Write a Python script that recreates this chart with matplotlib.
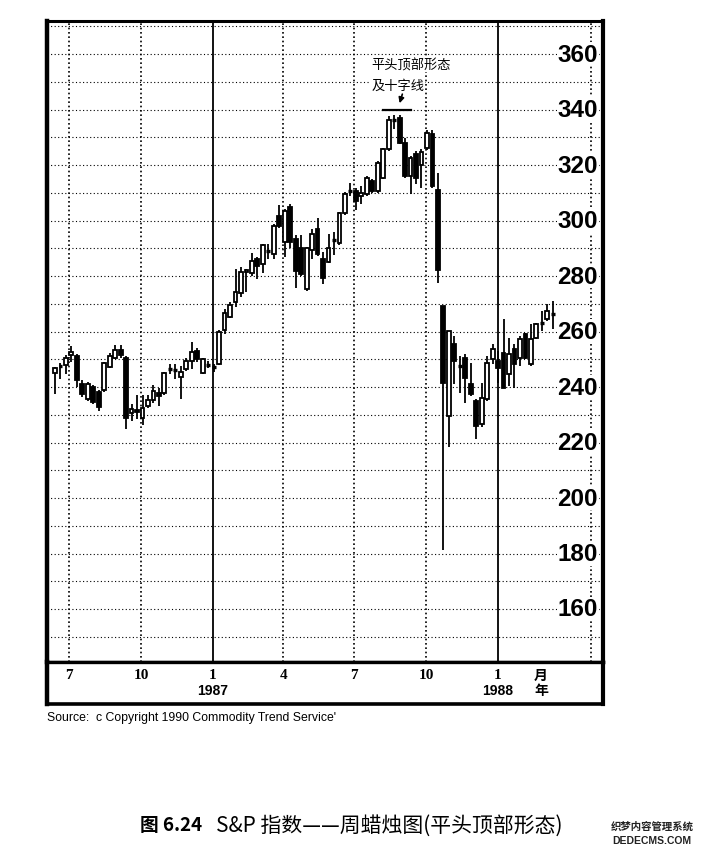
import matplotlib
matplotlib.use('Agg')
import matplotlib.pyplot as plt
import matplotlib.dates as mdates
import matplotlib.transforms as mtrans
from matplotlib.patches import Rectangle
import pandas as pd

plt.rcParams['font.family'] = ['Liberation Sans', 'Noto Sans CJK SC', 'DejaVu Sans']

# ---------------- data ----------------
start_date = '1986-06-13'
n_weeks = 92

opens = [245.0, 248.0, 247.9, 251.6, 251.2, 241.2, 235.7, 240.0, 238.2, 238.8,
         247.3, 250.4, 253.4, 250.4, 230.5, 231.8, 228.8, 233.0, 235.2, 237.8,
         237.8, 246.3, 246.0, 243.6, 246.4, 249.4, 253.0, 245.0, 248.4, 247.5,
         248.4, 260.5, 265.4, 270.7, 273.7, 281.4, 281.2, 286.0, 284.2, 289.2,
         288.1, 301.5, 292.3, 304.8, 293.5, 290.0, 275.2, 289.3, 297.0, 286.0,
         285.2, 292.8, 291.8, 302.6, 310.6, 310.8, 308.8, 309.4, 314.2, 310.6,
         315.4, 325.6, 336.2, 337.0, 328.0, 316.0, 323.8, 320.0, 326.0, 331.0,
         311.0, 269.1, 229.7, 255.4, 247.4, 250.6, 241.0, 235.0, 226.7, 235.6,
         250.0, 249.4, 252.4, 244.6, 253.6, 250.6, 259.0, 248.2, 257.8, 263.0,
         264.4, 266.0]
highs = [247.3, 248.5, 251.6, 254.6, 251.8, 242.4, 241.8, 240.6, 238.8, 249.1,
         252.2, 255.2, 255.2, 251.0, 233.9, 237.0, 237.2, 237.2, 240.8, 239.6,
         245.3, 248.2, 248.2, 247.6, 250.6, 256.4, 254.2, 250.6, 249.4, 248.2,
         260.6, 268.0, 270.7, 282.6, 283.2, 282.6, 288.3, 286.7, 291.6, 291.6,
         298.8, 305.7, 304.2, 306.0, 294.7, 294.7, 290.6, 297.0, 301.0, 288.7,
         295.0, 296.0, 303.2, 310.3, 313.6, 311.8, 312.4, 316.0, 314.8, 321.4,
         326.2, 337.6, 338.2, 338.2, 329.8, 323.2, 325.0, 325.6, 332.7, 332.6,
         317.0, 269.1, 260.2, 258.4, 251.2, 251.8, 248.8, 235.6, 241.6, 251.2,
         255.4, 253.0, 264.4, 257.8, 255.4, 258.4, 259.6, 262.6, 263.2, 267.4,
         269.8, 271.0]
lows = [237.6, 243.0, 244.6, 249.1, 240.0, 236.4, 235.1, 233.9, 231.5, 238.2,
        246.7, 250.0, 250.4, 224.8, 227.8, 228.4, 226.4, 232.4, 234.2, 233.2,
        237.2, 244.6, 243.0, 235.5, 245.8, 246.4, 249.0, 244.6, 247.0, 245.5,
        247.8, 259.0, 264.8, 268.9, 272.5, 274.3, 280.0, 279.0, 281.2, 286.0,
        286.2, 297.3, 286.9, 290.0, 275.8, 280.0, 274.6, 286.3, 287.3, 277.0,
        284.6, 287.6, 291.2, 302.0, 308.8, 303.8, 305.8, 308.8, 310.0, 310.0,
        314.8, 325.0, 332.8, 327.4, 315.4, 309.4, 313.0, 311.8, 325.5, 311.7,
        277.5, 181.2, 218.3, 241.0, 238.0, 234.4, 236.8, 221.3, 225.5, 235.0,
        248.2, 241.6, 239.8, 240.4, 239.8, 247.6, 250.0, 247.6, 257.2, 260.2,
        263.8, 260.8]
closes = [246.7, 247.5, 250.4, 252.6, 242.4, 237.6, 241.2, 234.5, 232.7, 248.5,
          251.0, 253.2, 251.6, 229.0, 232.1, 231.0, 232.4, 235.4, 238.4, 236.6,
          245.0, 246.5, 246.2, 245.3, 249.4, 252.7, 250.0, 250.2, 247.8, 247.0,
          260.0, 266.5, 269.5, 274.3, 281.4, 282.0, 285.4, 283.6, 291.0, 288.8,
          298.2, 298.0, 303.6, 292.3, 281.8, 280.6, 290.0, 295.2, 288.0, 279.4,
          290.0, 293.2, 302.6, 309.7, 310.9, 307.2, 310.0, 315.4, 310.6, 320.8,
          325.6, 336.4, 336.6, 328.0, 316.0, 322.6, 315.4, 324.8, 331.5, 312.3,
          282.3, 241.6, 260.2, 249.4, 247.8, 243.4, 237.4, 226.1, 236.2, 248.8,
          253.6, 247.0, 239.8, 251.8, 248.2, 257.2, 250.6, 257.2, 262.6, 263.4,
          267.4, 266.4]

y_ticks = [160, 180, 200, 220, 240, 260, 280, 300, 320, 340, 360]
month_tick_dates = ['1986-07-01', '1986-10-01', '1987-01-01', '1987-04-01',
                    '1987-07-01', '1987-10-01', '1988-01-01']
month_tick_labels = ['7', '10', '1', '4', '7', '10', '1']
year_tick_dates = ['1987-01-01', '1988-01-01']
year_tick_labels = ['1987', '1988']

annot_text1 = '平头顶部形态'
annot_text2 = '及十字线'
source_text = "Source:  c Copyright 1990 Commodity Trend Service'"
caption_bold = '图 6.24'
caption_rest = 'S&P 指数——周蜡烛图(平头顶部形态)'

# ---------------- figure ----------------
W, H = 715, 854
fig = plt.figure(figsize=(W / 100, H / 100), dpi=100)
fig.patch.set_facecolor('white')

def fx(px):
    return px / W

def fy(py):
    return 1 - py / H

ax_left, ax_right, ax_top, ax_bot = 47, 603, 22, 663
ax = fig.add_axes([fx(ax_left), fy(ax_bot), (ax_right - ax_left) / W, (ax_bot - ax_top) / H])

dates = pd.date_range(start_date, periods=n_weeks, freq='7D')
xs = mdates.date2num(dates.to_pydatetime())
days_per_px = 7 / 5.47
x0 = xs[0]
first_px = 55
ax.set_xlim(x0 - (first_px - ax_left) * days_per_px, x0 + (ax_right - first_px) * days_per_px)
ax.set_ylim(140.9, 371.9)

ax.set_xticks([])
ax.set_yticks([])
for side, lw in [('left', 3.2), ('right', 3.0), ('top', 2.2), ('bottom', 2.4)]:
    ax.spines[side].set_linewidth(lw)
    ax.spines[side].set_color('black')

# horizontal dotted grid
for v in range(150, 371, 10):
    ax.axhline(v, color='black', lw=0.8, ls=(0, (1, 2.2)), zorder=1)

# vertical grid (month quarters)
for d in month_tick_dates:
    xd = mdates.date2num(pd.Timestamp(d).to_pydatetime())
    if d.endswith('01-01'):
        ax.axvline(xd, color='black', lw=1.3, zorder=1)
    else:
        ax.axvline(xd, color='black', lw=1.2, ls=(0, (1, 1.6)), zorder=1)
# label column separator
ax.plot([0.978, 0.978], [0, 1], transform=ax.transAxes, color='black', lw=1.2,
        ls=(0, (1, 1.6)), zorder=1)

# candles
body_w = 4.9
for x, o, h, l, c in zip(xs, opens, highs, lows, closes):
    ax.vlines(x, l, h, color='black', lw=1.3, zorder=3)
    if abs(c - o) < 0.6:
        ax.hlines((o + c) / 2, x - body_w / 2, x + body_w / 2, color='black', lw=2.4, zorder=4)
    else:
        fc = 'white' if c > o else 'black'
        ax.add_patch(Rectangle((x - body_w / 2, min(o, c)), body_w, abs(c - o),
                               facecolor=fc, edgecolor='black', lw=1.3, zorder=4))

# y tick labels inside plot at right
trans = mtrans.blended_transform_factory(ax.transAxes, ax.transData)
for v in y_ticks:
    ax.text(0.991, v, str(v), transform=trans, ha='right', va='center',
            fontsize=17.5, fontweight='bold',
            family=['Liberation Sans Narrow', 'Liberation Sans', 'DejaVu Sans'],
            bbox=dict(facecolor='white', edgecolor='none', pad=0.6), zorder=5)

# flat top annotation
top_idx = 63
line_y = max(highs[61:64]) + 1.7
ax.plot([xs[60], xs[65]], [line_y, line_y], color='black', lw=1.6, zorder=5)
ax.annotate('', xy=(xs[top_idx] - 1.0, line_y + 1.4), xytext=(xs[top_idx] + 4.5, line_y + 6.6),
            arrowprops=dict(arrowstyle='-|>', color='black', lw=1.2, mutation_scale=8), zorder=5)
ax.text(xs[58] - 1, 356.0, annot_text1, ha='left', va='center', fontsize=9.5,
        family=['Noto Sans CJK SC'], zorder=5,
        bbox=dict(facecolor='white', edgecolor='none', pad=0.3))
ax.text(xs[58] - 1, 348.6, annot_text2, ha='left', va='center', fontsize=9.5,
        family=['Noto Sans CJK SC'], zorder=5,
        bbox=dict(facecolor='white', edgecolor='none', pad=0.3))

# ---------------- x label box ----------------
box_top, box_bot = 663, 705
axb = fig.add_axes([fx(ax_left), fy(box_bot), (ax_right - ax_left) / W, (box_bot - box_top) / H])
axb.set_xlim(ax.get_xlim())
axb.set_ylim(0, 1)
axb.set_xticks([])
axb.set_yticks([])
for side, lw in [('left', 3.2), ('right', 3.0), ('top', 2.4), ('bottom', 2.6)]:
    axb.spines[side].set_linewidth(lw)

for d, lab in zip(month_tick_dates, month_tick_labels):
    xd = mdates.date2num(pd.Timestamp(d).to_pydatetime())
    axb.text(xd, 0.70, lab, ha='center', va='center', fontsize=11, fontweight='bold',
             family=['Liberation Serif', 'DejaVu Serif'])
for d, lab in zip(year_tick_dates, year_tick_labels):
    xd = mdates.date2num(pd.Timestamp(d).to_pydatetime())
    axb.text(xd, 0.33, lab, ha='center', va='center', fontsize=10, fontweight='bold')
bx_month = (541 - ax_left) / (ax_right - ax_left)
axb.text(bx_month, 0.70, '月', transform=axb.transAxes, ha='center', va='center',
         fontsize=10, fontweight='bold', family=['Noto Sans CJK SC'])
axb.text(bx_month, 0.33, '年', transform=axb.transAxes, ha='center', va='center',
         fontsize=10, fontweight='bold', family=['Noto Sans CJK SC'])

# ---------------- source & caption ----------------
fig.text(fx(47), fy(718), source_text, ha='left', va='center', fontsize=8.8)
fig.text(fx(140), fy(826), caption_bold, ha='left', va='center', fontsize=13.5,
         fontweight='bold', family=['Noto Sans CJK SC', 'DejaVu Sans'])
fig.text(fx(216), fy(826), caption_rest, ha='left', va='center', fontsize=15,
         family=['Noto Sans CJK SC', 'DejaVu Sans'])
fig.text(fx(652), fy(827), '织梦内容管理系统', ha='center', va='center', fontsize=7.5,
         fontweight='bold', family=['Noto Sans CJK SC'], color='#222222')
fig.text(fx(652), fy(841), 'DEDECMS.COM', ha='center', va='center', fontsize=7.5,
         fontweight='bold', color='#222222')

fig.savefig('out.png', dpi=100, facecolor='white')
